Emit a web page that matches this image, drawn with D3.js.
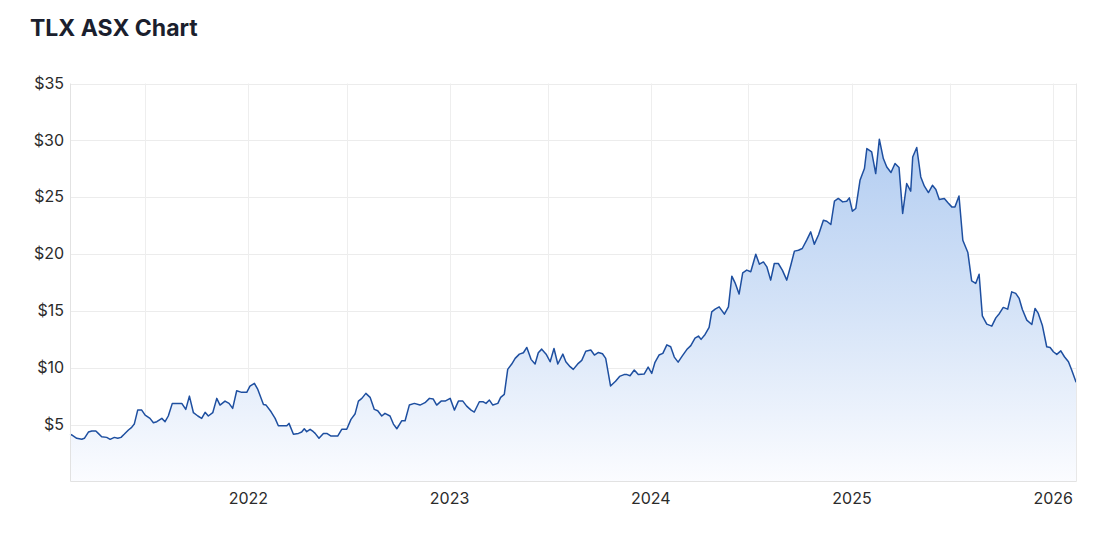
<!DOCTYPE html>
<html><head><meta charset="utf-8">
<script src="https://cdn.jsdelivr.net/npm/d3@7"></script>
<style>
body{margin:0;background:#fff}
svg{display:block}
text{font-family:Inter,"Noto Sans",Arial,sans-serif}
</style>
</head><body>
<svg id="chart" width="1103" height="536"></svg>
<script>
// Dates as decimal years (weekly closes), prices in AUD
const dates = [
2021.114,2021.122,2021.147,2021.172,2021.185,2021.205,2021.222,2021.242,2021.254,2021.271,
2021.296,2021.313,2021.334,2021.351,2021.367,2021.384,2021.404,2021.420,2021.433,2021.450,
2021.470,2021.487,2021.511,2021.528,2021.545,2021.570,2021.586,2021.602,2021.622,2021.644,
2021.669,2021.689,2021.707,2021.727,2021.749,2021.768,2021.785,2021.801,2021.823,2021.843,
2021.859,2021.884,2021.904,2021.922,2021.942,2021.967,2021.992,2022.008,2022.030,2022.047,
2022.075,2022.088,2022.113,2022.133,2022.149,2022.174,2022.191,2022.202,2022.224,2022.249,
2022.265,2022.278,2022.290,2022.307,2022.323,2022.332,2022.351,2022.373,2022.390,2022.411,
2022.444,2022.464,2022.489,2022.510,2022.530,2022.547,2022.564,2022.584,2022.605,2022.626,
2022.643,2022.663,2022.679,2022.704,2022.721,2022.738,2022.762,2022.779,2022.800,2022.825,
2022.853,2022.878,2022.900,2022.919,2022.936,2022.958,2022.978,2023.003,2023.024,2023.044,
2023.066,2023.085,2023.107,2023.123,2023.148,2023.168,2023.181,2023.198,2023.215,2023.240,
2023.254,2023.272,2023.289,2023.309,2023.326,2023.347,2023.367,2023.384,2023.405,2023.425,
2023.441,2023.458,2023.480,2023.500,2023.519,2023.538,2023.563,2023.578,2023.599,2023.615,
2023.640,2023.657,2023.677,2023.702,2023.720,2023.740,2023.760,2023.776,2023.800,2023.825,
2023.845,2023.867,2023.882,2023.897,2023.918,2023.938,2023.967,2023.987,2024.005,2024.021,
2024.041,2024.060,2024.080,2024.099,2024.117,2024.136,2024.156,2024.179,2024.199,2024.220,
2024.237,2024.250,2024.270,2024.290,2024.303,2024.320,2024.340,2024.366,2024.386,2024.403,
2024.419,2024.439,2024.457,2024.477,2024.497,2024.522,2024.540,2024.560,2024.577,2024.596,
2024.614,2024.634,2024.654,2024.676,2024.696,2024.714,2024.734,2024.753,2024.775,2024.795,
2024.813,2024.834,2024.858,2024.875,2024.895,2024.913,2024.932,2024.954,2024.974,2024.987,
2025.002,2025.019,2025.040,2025.062,2025.074,2025.098,2025.118,2025.136,2025.156,2025.173,
2025.194,2025.214,2025.234,2025.252,2025.272,2025.292,2025.302,2025.322,2025.342,2025.360,
2025.380,2025.400,2025.417,2025.434,2025.459,2025.476,2025.496,2025.512,2025.532,2025.551,
2025.576,2025.595,2025.615,2025.632,2025.648,2025.670,2025.695,2025.715,2025.733,2025.752,
2025.774,2025.794,2025.814,2025.831,2025.847,2025.869,2025.894,2025.910,2025.926,2025.946,
2025.968,2025.985,2026.001,2026.018,2026.038,2026.056,2026.076,2026.092,2026.114
];
const prices = [
4.15,4.09,3.80,3.71,3.80,4.35,4.44,4.44,4.23,3.94,
3.88,3.71,3.88,3.80,3.88,4.17,4.53,4.76,5.05,6.28,
6.28,5.84,5.55,5.17,5.26,5.55,5.26,5.76,6.87,6.87,
6.87,6.34,7.51,6.05,5.76,5.55,6.08,5.76,6.05,7.31,
6.72,7.07,6.87,6.43,7.98,7.84,7.84,8.39,8.63,8.10,
6.78,6.72,6.13,5.55,4.90,4.90,4.90,5.11,4.15,4.23,
4.35,4.64,4.38,4.59,4.38,4.23,3.80,4.23,4.23,4.00,
4.00,4.59,4.59,5.46,5.93,7.07,7.31,7.75,7.40,6.34,
6.22,5.76,5.99,5.76,5.05,4.64,5.34,5.34,6.72,6.87,
6.72,6.93,7.31,7.25,6.72,7.07,7.07,7.31,6.28,7.07,
7.07,6.63,6.28,6.11,7.01,7.01,6.87,7.16,6.72,6.87,
7.40,7.66,9.86,10.33,10.83,11.20,11.32,11.79,10.74,10.33,
11.32,11.64,11.20,10.53,11.70,10.33,11.20,10.53,10.10,9.86,
10.39,10.65,11.45,11.56,11.12,11.35,11.23,10.83,8.40,8.82,
9.24,9.40,9.40,9.30,9.80,9.40,9.45,10.06,9.51,10.48,
11.12,11.27,12.02,11.85,10.94,10.50,11.02,11.60,11.95,12.60,
12.79,12.50,12.93,13.55,14.92,15.16,15.36,14.72,15.36,18.06,
17.47,16.48,18.35,18.59,18.44,19.99,19.11,19.31,18.88,17.71,
19.17,19.17,18.59,17.71,19.02,20.26,20.34,20.49,21.22,21.95,
20.87,21.70,22.98,22.89,22.60,24.65,24.89,24.59,24.65,24.94,
23.77,24.01,26.49,27.52,29.28,28.98,27.08,30.10,28.40,27.66,
27.17,27.96,27.61,23.57,26.20,25.53,28.54,29.37,26.78,25.97,
25.41,26.05,25.68,24.80,24.89,24.53,24.15,24.15,25.11,21.22,
20.14,17.65,17.42,18.23,14.57,13.84,13.66,14.39,14.78,15.31,
15.16,16.68,16.54,16.10,15.13,14.19,13.81,15.22,14.78,13.75,
11.85,11.79,11.41,11.18,11.49,10.97,10.53,9.80,8.72
];
const priceTicks = [5,10,15,20,25,30,35];
const yearTicks = [2022,2023,2024,2025,2026];
const midYearGrid = [2021.487,2022.489,2023.489,2024.485,2025.485];
const titleText = "TLX ASX Chart";

const data = dates.map((d,i)=>({t:d, v:prices[i]}));

const svg = d3.select("#chart");
const m = {left:70.5, right:1076.5, top:83.5, bottom:481.5};

const x = d3.scaleLinear().domain([2021.116, 2026.116]).range([m.left, m.right]);
const y = d3.scaleLinear().domain([0, 35]).range([m.bottom, m.top]);

// gradient
const defs = svg.append("defs");
const grad = defs.append("linearGradient").attr("id","fillGrad")
  .attr("gradientUnits","userSpaceOnUse")
  .attr("x1",0).attr("x2",0).attr("y1",m.top).attr("y2",m.bottom);
grad.append("stop").attr("offset","0%").attr("stop-color","#a8c6ef");
grad.append("stop").attr("offset","55%").attr("stop-color","#d3e2f7");
grad.append("stop").attr("offset","100%").attr("stop-color","#fbfcff");

// title
svg.append("text").attr("x",30).attr("y",36)
  .attr("font-size",23).attr("font-weight",700).attr("fill","#1b1f2e")
  .text(titleText);

// horizontal grid
svg.append("g").selectAll("line").data(priceTicks).join("line")
  .attr("x1",m.left).attr("x2",m.right)
  .attr("y1",d=>Math.round(y(d))+0.5).attr("y2",d=>Math.round(y(d))+0.5)
  .attr("stroke","#ececec").attr("stroke-width",1);

// vertical grid (year starts and mid-year)
svg.append("g").selectAll("line").data(yearTicks.concat(midYearGrid)).join("line")
  .attr("x1",d=>Math.round(x(d))+0.5).attr("x2",d=>Math.round(x(d))+0.5)
  .attr("y1",m.top).attr("y2",m.bottom)
  .attr("stroke","#eeeeee").attr("stroke-width",1);

// area + line
const area = d3.area().x(d=>x(d.t)).y0(y(0)).y1(d=>y(d.v));
const line = d3.line().x(d=>x(d.t)).y(d=>y(d.v));
svg.append("path").datum(data).attr("d",area).attr("fill","url(#fillGrad)");
svg.append("path").datum(data).attr("d",line)
  .attr("fill","none").attr("stroke","#1e4fa0").attr("stroke-width",1.5)
  .attr("stroke-linejoin","round");

// borders: left, right, bottom
svg.append("line").attr("x1",m.left).attr("x2",m.left).attr("y1",m.top).attr("y2",m.bottom)
  .attr("stroke","#e2e2e2");
svg.append("line").attr("x1",m.right).attr("x2",m.right).attr("y1",m.top).attr("y2",m.bottom)
  .attr("stroke","#e8e8e8");
svg.append("line").attr("x1",m.left).attr("x2",m.right).attr("y1",m.bottom).attr("y2",m.bottom)
  .attr("stroke","#e2e2e2");

// y labels
svg.append("g").selectAll("text").data(priceTicks).join("text")
  .attr("x",64).attr("y",d=>y(d)).attr("dy","0.33em")
  .attr("text-anchor","end").attr("font-size",16).attr("fill","#2b2b2b")
  .text(d=>"$"+d);

// x labels
svg.append("g").selectAll("text").data(yearTicks).join("text")
  .attr("x",d=>x(d)).attr("y",504)
  .attr("text-anchor","middle").attr("font-size",16).attr("fill","#2b2b2b")
  .text(d=>d3.format("d")(d));
</script>
</body></html>
